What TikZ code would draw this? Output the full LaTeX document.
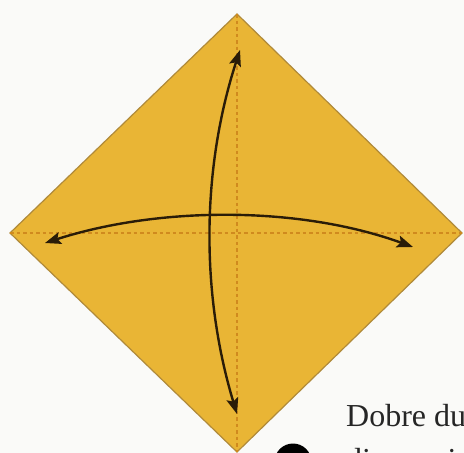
\documentclass[tikz,border=0pt]{standalone}
\usepackage{fontspec}
\setmainfont{Liberation Serif}
\usetikzlibrary{arrows.meta}
\definecolor{paper}{HTML}{E9B535}
\definecolor{paperedge}{HTML}{B08A3A}
\definecolor{creasecol}{HTML}{D08A1E}
\definecolor{arrowcol}{HTML}{2A1C08}
\definecolor{bgcol}{HTML}{FAFAF8}
\definecolor{textcol}{HTML}{262626}
\tikzset{
  crease/.style={creasecol, line width=1.5pt, dash pattern=on 3.5pt off 3pt},
  foldarrow/.style={arrowcol, line width=2.4pt, {Stealth[length=16pt,width=12pt,inset=3pt]}-{Stealth[length=16pt,width=12pt,inset=3pt]}},
  caption/.style={textcol, font=\fontsize{32}{34}\selectfont, anchor=base west, inner sep=0pt},
}
\begin{document}
\begin{tikzpicture}[x=1pt,y=-1pt]
\useasboundingbox (0,0) rectangle (464,453);
\clip (0,0) rectangle (464,453);
\fill[bgcol] (0,0) rectangle (464,453);
% paper square as diamond
\coordinate (T) at (237,14);
\coordinate (L) at (10,233);
\coordinate (R) at (462,233);
\coordinate (B) at (237,452);
\filldraw[fill=paper, draw=paperedge, line width=1.2pt] (T) -- (R) -- (B) -- (L) -- cycle;
% creases
\draw[crease] (L) -- (R);
\draw[crease] (T) -- (B);
% fold arrows
\coordinate (vt) at (240,50);
\coordinate (vb) at (237,414);
\coordinate (hl) at (45,243);
\coordinate (hr) at (413,247);
\draw[foldarrow] (vt) .. controls (201,170) and (201,295) .. (vb);
\draw[foldarrow] (hl) .. controls (160,206) and (300,206) .. (hr);
% caption
\node[caption] (cap1) at (346,426) {Dobre du};
\node[caption] (cap2) at (346,470) {diagonais};
\node[circle, fill=black, minimum size=37pt, inner sep=0pt] (num) at (293,462) {};
\end{tikzpicture}
\end{document}
